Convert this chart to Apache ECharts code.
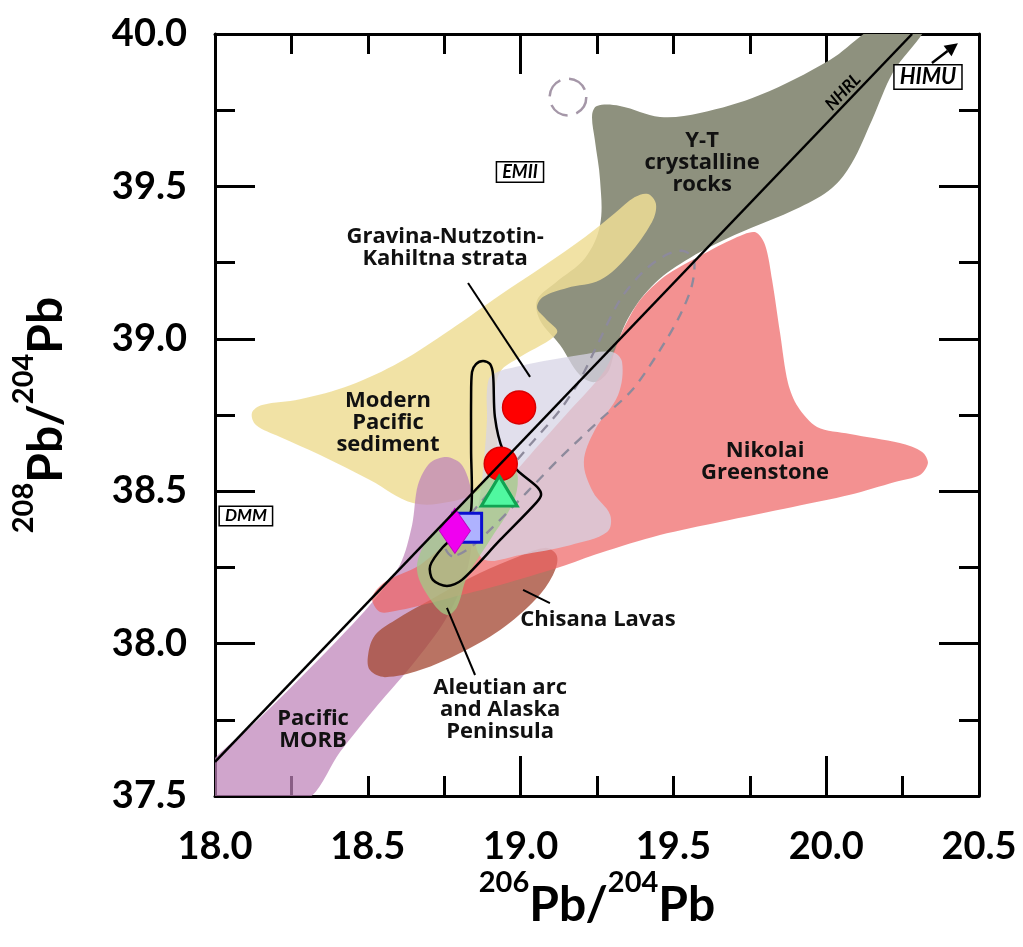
<!DOCTYPE html>
<html>
<head>
<meta charset="utf-8">
<script src="https://cdn.jsdelivr.net/npm/echarts@6/dist/echarts.min.js"></script>
<style>
  html, body { margin: 0; padding: 0; background: #ffffff; }
  #chart { width: 1023px; height: 947px; }
</style>
</head>
<body>
<div id="chart"></div>
<script>
// ---- axis ranges and tick labels -------------------------------------------
const xRange = [18.0, 20.5];
const yRange = [37.5, 40.0];
const xTickLabels = ['18.0', '18.5', '19.0', '19.5', '20.0', '20.5'];
const yTickLabels = ['37.5', '38.0', '38.5', '39.0', '39.5', '40.0'];

// ---- compositional fields, vertices as [206Pb/204Pb, 208Pb/204Pb] ----------
const ytCrystalline = [
  [19.250, 39.764], [19.325, 39.764], [19.456, 39.728], [19.587, 39.741],
  [19.783, 39.800], [20.012, 39.915], [20.176, 40.030], [20.323, 40.030],
  [20.219, 39.875], [20.150, 39.718], [20.084, 39.577], [20.019, 39.495],
  [19.914, 39.432], [19.702, 39.341], [19.554, 39.265], [19.440, 39.183],
  [19.358, 39.078], [19.309, 38.963], [19.286, 38.891], [19.243, 38.858],
  [19.194, 38.881], [19.129, 38.980], [19.063, 39.062], [19.054, 39.127],
  [19.113, 39.183], [19.211, 39.265], [19.260, 39.373], [19.260, 39.521],
  [19.243, 39.652], [19.234, 39.734]
];
const pacificSediment = [
  [18.121, 38.757], [18.154, 38.783], [18.278, 38.802], [18.442, 38.848],
  [18.605, 38.924], [18.769, 39.029], [18.933, 39.144], [19.080, 39.242],
  [19.211, 39.334], [19.309, 39.413], [19.374, 39.465], [19.417, 39.475],
  [19.443, 39.442], [19.430, 39.383], [19.351, 39.272], [19.260, 39.193],
  [19.152, 39.167], [19.073, 39.137], [19.054, 39.101], [19.080, 39.068],
  [19.119, 39.019], [18.998, 38.940], [18.933, 38.891], [18.916, 38.799],
  [18.923, 38.668], [18.916, 38.570], [18.867, 38.504], [18.769, 38.465],
  [18.648, 38.461], [18.507, 38.537], [18.344, 38.619], [18.213, 38.678],
  [18.134, 38.717]
];
const pacificMorb = [
  [17.967, 37.585], [18.147, 37.756], [18.344, 37.953], [18.507, 38.127],
  [18.605, 38.258], [18.645, 38.389], [18.664, 38.520], [18.704, 38.593],
  [18.759, 38.612], [18.808, 38.586], [18.838, 38.504], [18.844, 38.373],
  [18.821, 38.225], [18.753, 38.077], [18.645, 37.930], [18.533, 37.799],
  [18.409, 37.644], [18.295, 37.487], [17.967, 37.487]
];
const chisanaLavas = [
  [18.501, 37.963], [18.524, 38.028], [18.589, 38.077], [18.704, 38.143],
  [18.834, 38.215], [18.965, 38.274], [19.080, 38.314], [19.119, 38.287],
  [19.106, 38.225], [19.047, 38.143], [18.933, 38.045], [18.802, 37.969],
  [18.671, 37.913], [18.556, 37.890], [18.507, 37.913]
];
const nikolaiGreenstone = [
  [19.767, 39.350], [19.800, 39.308], [19.823, 39.193], [19.849, 39.019],
  [19.875, 38.855], [19.908, 38.776], [19.970, 38.711], [20.078, 38.688],
  [20.241, 38.658], [20.314, 38.629], [20.333, 38.593], [20.307, 38.553],
  [20.225, 38.530], [20.078, 38.488], [19.891, 38.448], [19.652, 38.399],
  [19.456, 38.356], [19.260, 38.297], [19.129, 38.251], [18.933, 38.192],
  [18.769, 38.150], [18.605, 38.110], [18.540, 38.104], [18.514, 38.150],
  [18.556, 38.202], [18.671, 38.258], [18.785, 38.356], [18.900, 38.471],
  [19.031, 38.619], [19.162, 38.766], [19.276, 38.898], [19.335, 39.029],
  [19.391, 39.127], [19.473, 39.206], [19.587, 39.272], [19.702, 39.331]
];
const gravinaStrata = [
  [18.906, 38.881], [18.998, 38.911], [19.194, 38.947], [19.299, 38.957],
  [19.332, 38.924], [19.319, 38.816], [19.243, 38.701], [19.207, 38.596],
  [19.237, 38.497], [19.293, 38.422], [19.283, 38.366], [19.162, 38.323],
  [18.998, 38.291], [18.884, 38.274], [18.851, 38.340], [18.874, 38.537],
  [18.890, 38.734], [18.890, 38.832]
];
const aleutianArc = [
  [18.972, 38.586], [18.991, 38.543], [18.975, 38.461], [18.900, 38.340],
  [18.825, 38.219], [18.792, 38.120], [18.759, 38.094], [18.713, 38.133],
  [18.661, 38.241], [18.694, 38.340], [18.779, 38.428], [18.857, 38.504],
  [18.923, 38.570]
];
// outlined (unfilled) fields
const hairpinField = [
  [18.841, 38.891], [18.854, 38.917], [18.877, 38.927], [18.900, 38.917],
  [18.910, 38.881], [18.916, 38.743], [18.942, 38.635], [18.988, 38.570],
  [19.054, 38.514], [19.067, 38.488], [19.050, 38.461], [18.933, 38.340],
  [18.808, 38.209], [18.759, 38.189], [18.713, 38.209], [18.704, 38.255],
  [18.746, 38.317], [18.808, 38.373], [18.838, 38.438], [18.838, 38.635],
  [18.838, 38.799]
];
const dashedField = [
  [18.776, 38.287], [18.753, 38.323], [18.834, 38.422], [18.933, 38.537],
  [19.031, 38.652], [19.129, 38.766], [19.194, 38.865], [19.243, 38.963],
  [19.325, 39.127], [19.407, 39.226], [19.482, 39.278], [19.535, 39.288],
  [19.567, 39.259], [19.561, 39.177], [19.522, 39.078], [19.456, 38.963],
  [19.365, 38.832], [19.260, 38.734], [19.129, 38.609], [19.021, 38.497],
  [18.910, 38.383], [18.834, 38.314]
];
const dashedRingCenter = [[19.155, 39.793]];
const dashedRingRadius = 0.06;

// Northern Hemisphere Reference Line
const nhrl = [[18.0, 37.612], [20.281, 40.0]];

// ---- samples ------------------------------------------------------------
const redCircles = [[18.995, 38.775], [18.935, 38.590]];
const greenTriangle = [[18.930, 38.500]];
const blueSquare = [[18.825, 38.380]];
const magentaDiamond = [[18.785, 38.370]];

// ---- annotations ----------------------------------------------------------
const fieldLabelText = [
  'Gravina-Nutzotin-\nKahiltna strata', 'Modern\nPacific\nsediment',
  'Y-T\ncrystalline\nrocks', 'Nikolai\nGreenstone', 'Chisana Lavas',
  'Aleutian arc\nand Alaska\nPeninsula', 'Pacific\nMORB'
];
const fieldLabelPos = [
  [18.753, 39.298], [18.566, 38.724], [19.594, 39.577], [19.800, 38.596],
  [19.253, 38.077], [18.933, 37.782], [18.321, 37.717]
];
const leaderLines = [
  [18.828, 39.183, 19.031, 38.875],
  [19.008, 38.176, 19.096, 38.133],
  [18.759, 38.117, 18.851, 37.897]
];
const endMemberText = ['EMII', 'DMM', 'HIMU'];
const endMemberPos = [[18.998, 39.547], [18.101, 38.419], [20.333, 39.859]];
const endMemberFont = [18, 17, 22];
const himuArrow = [[20.346, 39.905], [20.431, 39.970]];
const nhrlLabelPos = [[20.055, 39.810]];

// ---- helpers -----------------------------------------------------------------
const FONT = 'Lato, "Open Sans", "DejaVu Sans", sans-serif';
const LABEL_FONT = '"Open Sans", Lato, "DejaVu Sans", sans-serif';

function fieldSeries(name, pts, style, smooth) {
  return {
    type: 'custom', name: name, data: pts, clip: true, silent: true,
    renderItem: function (params, api) {
      if (params.dataIndex !== 0) return null;
      const points = pts.map(function (p) { return api.coord(p); });
      return { type: 'polygon', shape: { points: points, smooth: smooth }, style: style };
    }
  };
}

function axisCommon(extra) {
  return Object.assign({
    type: 'value',
    splitLine: { show: false },
    axisLine: { show: true, onZero: false, lineStyle: { color: '#000', width: 3 } },
    axisTick: { show: true, inside: true, length: 20, lineStyle: { color: '#000', width: 3 } },
    minorTick: { show: true, splitNumber: 2, length: 20, lineStyle: { color: '#000', width: 3 } },
    axisLabel: { show: false }
  }, extra);
}

const tickLabelStyle = {
  show: true, color: '#000', fontFamily: FONT, fontWeight: 'bold', fontSize: 38
};

const titleRich = {
  s: { fontFamily: FONT, fontWeight: 'bold', fontSize: 29, lineHeight: 29, verticalAlign: 'top', fill: '#000' },
  b: { fontFamily: FONT, fontWeight: 'bold', fontSize: 48, lineHeight: 76, verticalAlign: 'middle', fill: '#000' }
};

const chart = echarts.init(document.getElementById('chart'), null, { renderer: 'canvas' });

const option = {
  backgroundColor: '#ffffff',
  animation: false,
  grid: { left: 215, top: 34, right: 44, bottom: 151, containLabel: false, outerBoundsMode: 'none' },
  xAxis: [
    axisCommon({
      position: 'bottom', min: xRange[0], max: xRange[1], interval: 0.5,
      axisLabel: Object.assign({}, tickLabelStyle, {
        margin: 32,
        formatter: function (v) { return xTickLabels[Math.round((v - xRange[0]) / 0.5)]; }
      })
    }),
    axisCommon({
      position: 'bottom', min: xRange[0], max: xRange[1], interval: 1,
      axisLine: { show: false }, minorTick: { show: false },
      axisTick: { show: true, inside: true, length: 40, lineStyle: { color: '#000', width: 3 } }
    }),
    axisCommon({ position: 'top', min: xRange[0], max: xRange[1], interval: 0.5 }),
    axisCommon({
      position: 'top', min: xRange[0], max: xRange[1], interval: 1,
      axisLine: { show: false }, minorTick: { show: false },
      axisTick: { show: true, inside: true, length: 40, lineStyle: { color: '#000', width: 3 } }
    })
  ],
  yAxis: [
    axisCommon({
      position: 'left', min: yRange[0], max: yRange[1], interval: 0.5,
      axisTick: { show: true, inside: true, length: 40, lineStyle: { color: '#000', width: 3 } },
      axisLabel: Object.assign({}, tickLabelStyle, {
        margin: 28,
        formatter: function (v) { return yTickLabels[Math.round((v - yRange[0]) / 0.5)]; }
      })
    }),
    axisCommon({
      position: 'right', min: yRange[0], max: yRange[1], interval: 0.5,
      axisTick: { show: true, inside: true, length: 40, lineStyle: { color: '#000', width: 3 } }
    })
  ],
  graphic: [
    {
      type: 'text', x: 597, y: 906, silent: true,
      style: { text: '{s|206}{b|Pb/}{s|204}{b|Pb}', align: 'center', verticalAlign: 'middle', rich: titleRich }
    },
    {
      type: 'text', x: 47, y: 415, rotation: Math.PI / 2, silent: true,
      style: { text: '{s|208}{b|Pb/}{s|204}{b|Pb}', align: 'center', verticalAlign: 'middle', rich: titleRich }
    }
  ],
  series: [
    fieldSeries('Y-T crystalline rocks', ytCrystalline, { fill: '#8e917e' }, 0.35),
    fieldSeries('Modern Pacific sediment', pacificSediment, { fill: 'rgba(238,221,149,0.85)' }, 0.35),
    fieldSeries('Pacific MORB', pacificMorb, { fill: 'rgba(190,130,185,0.72)' }, 0.3),
    fieldSeries('Chisana Lavas', chisanaLavas, { fill: 'rgba(165,75,55,0.78)' }, 0.35),
    fieldSeries('Nikolai Greenstone', nikolaiGreenstone, { fill: 'rgba(238,99,99,0.7)' }, 0.3),
    fieldSeries('Gravina-Nutzotin-Kahiltna strata', gravinaStrata, { fill: 'rgba(215,212,230,0.75)' }, 0.35),
    fieldSeries('Aleutian arc and Alaska Peninsula', aleutianArc, { fill: 'rgba(160,205,135,0.72)' }, 0.35),
    fieldSeries('outlined field', hairpinField, { fill: 'none', stroke: '#000', lineWidth: 2.5 }, 0.3),
    fieldSeries('dashed field', dashedField, { fill: 'none', stroke: '#8d8a9c', lineWidth: 2.3, lineDash: [10, 8] }, 0.3),
    {
      type: 'custom', name: 'dashed ring', data: dashedRingCenter, silent: true,
      renderItem: function (params, api) {
        const c = api.coord([api.value(0), api.value(1)]);
        const r = api.size([dashedRingRadius, 0])[0];
        return { type: 'circle', shape: { cx: c[0], cy: c[1], r: r },
          style: { fill: 'none', stroke: '#a597a8', lineWidth: 2.5, lineDash: [20, 9] } };
      }
    },
    {
      type: 'line', name: 'NHRL', data: nhrl, symbol: 'none', silent: true,
      lineStyle: { color: '#000', width: 2.5 }
    },
    {
      type: 'custom', name: 'leaders', data: leaderLines, silent: true,
      encode: { x: [0, 2], y: [1, 3] },
      renderItem: function (params, api) {
        const a = api.coord([api.value(0), api.value(1)]);
        const b = api.coord([api.value(2), api.value(3)]);
        return { type: 'line', shape: { x1: a[0], y1: a[1], x2: b[0], y2: b[1] },
          style: { stroke: '#000', lineWidth: 2 } };
      }
    },
    {
      type: 'custom', name: 'HIMU arrow', data: [0], silent: true,
      renderItem: function (params, api) {
        const a = api.coord(himuArrow[0]);
        const b = api.coord(himuArrow[1]);
        const ang = Math.atan2(b[1] - a[1], b[0] - a[0]);
        const L = 13, W = 6.5;
        const bx = b[0] - L * Math.cos(ang), by = b[1] - L * Math.sin(ang);
        return { type: 'group', children: [
          { type: 'line', shape: { x1: a[0], y1: a[1], x2: bx, y2: by }, style: { stroke: '#000', lineWidth: 2.5 } },
          { type: 'polygon', shape: { points: [
            [b[0], b[1]],
            [bx + W * Math.sin(ang), by - W * Math.cos(ang)],
            [bx - W * Math.sin(ang), by + W * Math.cos(ang)]
          ] }, style: { fill: '#000' } }
        ] };
      }
    },
    {
      type: 'scatter', name: 'red circles', data: redCircles, symbol: 'circle', symbolSize: 33,
      itemStyle: { color: '#ff0000', borderColor: '#d80000', borderWidth: 1.5, opacity: 1 }
    },
    {
      type: 'scatter', name: 'triangle', data: greenTriangle, symbol: 'triangle', symbolSize: [36, 30],
      itemStyle: { color: '#50f8a0', borderColor: '#11a352', borderWidth: 3, opacity: 1 }
    },
    {
      type: 'scatter', name: 'square', data: blueSquare, symbol: 'rect', symbolSize: 29,
      itemStyle: { color: '#aeb2ff', borderColor: '#0a10d0', borderWidth: 3, opacity: 1 }
    },
    {
      type: 'scatter', name: 'diamond', data: magentaDiamond, symbol: 'diamond', symbolSize: [31, 45],
      itemStyle: { color: '#f000f0', borderColor: '#c000c0', borderWidth: 1, opacity: 1 }
    },
    {
      type: 'custom', name: 'field labels', data: fieldLabelPos, silent: true,
      renderItem: function (params, api) {
        const p = api.coord([api.value(0), api.value(1)]);
        return { type: 'text', x: p[0], y: p[1], style: {
          text: fieldLabelText[params.dataIndex], align: 'center', verticalAlign: 'middle',
          fontFamily: LABEL_FONT, fontWeight: 'bold', fontSize: 22, lineHeight: 22, fill: '#111' } };
      }
    },
    {
      type: 'custom', name: 'end members', data: endMemberPos, silent: true,
      renderItem: function (params, api) {
        const p = api.coord([api.value(0), api.value(1)]);
        const fs = endMemberFont[params.dataIndex];
        return { type: 'text', x: p[0], y: p[1], style: {
          text: endMemberText[params.dataIndex], align: 'center', verticalAlign: 'middle',
          fontFamily: FONT, fontWeight: 'bold', fontStyle: 'italic', fontSize: fs, lineHeight: fs,
          fill: '#000', backgroundColor: '#fff', borderColor: '#000', borderWidth: 1.5,
          padding: [1, 5, 0, 5] } };
      }
    },
    {
      type: 'custom', name: 'NHRL label', data: nhrlLabelPos, silent: true,
      renderItem: function (params, api) {
        const p = api.coord([api.value(0), api.value(1)]);
        const a = api.coord(nhrl[0]);
        const b = api.coord(nhrl[1]);
        const rot = Math.atan2(a[1] - b[1], b[0] - a[0]);
        return { type: 'text', x: p[0], y: p[1], rotation: rot, style: {
          text: 'NHRL', align: 'center', verticalAlign: 'middle',
          fontFamily: FONT, fontStyle: 'italic', fontWeight: 'bold', fontSize: 17, fill: '#000' } };
      }
    }
  ]
};

chart.setOption(option);
</script>
</body>
</html>
